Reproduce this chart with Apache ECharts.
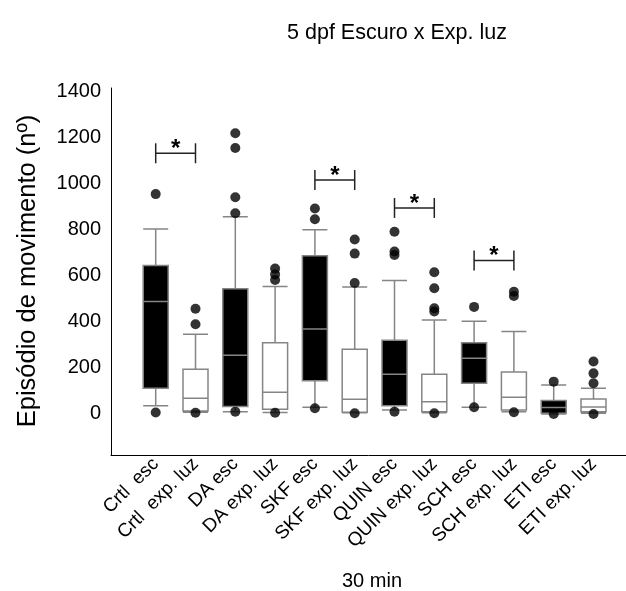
<!DOCTYPE html>
<html>
<head>
<meta charset="utf-8">
<script src="https://cdn.jsdelivr.net/npm/echarts@6/dist/echarts.min.js"></script>
<style>
html,body{margin:0;padding:0;background:#fff;}
#chart{width:626px;height:591px;}
</style>
</head>
<body>
<div id="chart"></div>
<script>
// ---- data ----
var categories = ['Crtl  esc','Crtl  exp. luz','DA esc','DA exp. luz','SKF esc','SKF exp. luz','QUIN esc','QUIN exp. luz','SCH esc','SCH exp. luz','ETI esc','ETI exp. luz'];
// [min, Q1, median, Q3, max]
var boxValues = [
  [35, 111, 487, 644, 802],
  [7, 13, 68, 194, 345],
  [10, 32, 254, 543, 855],
  [6, 20, 94, 309, 552],
  [29, 144, 368, 686, 798],
  [5, 7, 64, 280, 550],
  [17, 35, 172, 319, 578],
  [5, 10, 53, 172, 407],
  [29, 133, 241, 309, 402],
  [10, 17, 72, 182, 357],
  [0, 3, 28, 58, 126],
  [3, 10, 30, 65, 111]
];
var outliers = [
  [953, 6],
  [456, 389, 5],
  [1217, 1153, 939, 870, 10],
  [630, 605, 581, 5],
  [891, 844, 25],
  [756, 695, 568, 3],
  [790, 704, 689, 10],
  [614, 545, 458, 444, 3],
  [464, 29],
  [530, 511, 7],
  [140, 0],
  [227, 176, 133, 0]
];
var darkGroup = [true, false, true, false, true, false, true, false, true, false, true, false];
// significance brackets: [from category, to category, level]
var sigPairs = [[0, 1, 1130], [4, 5, 1014], [6, 7, 893], [8, 9, 665]];
var yTicks = [0, 200, 400, 600, 800, 1000, 1200, 1400];
var yMin = -178, yMax = 1413;

// ---- build ----
var FONT = "'Liberation Sans', Arial, sans-serif";
var boxData = boxValues.map(function (v, i) {
  return {
    value: v,
    itemStyle: { color: darkGroup[i] ? '#000000' : '#ffffff' }
  };
});
var outlierData = [];
outliers.forEach(function (arr, i) {
  arr.forEach(function (v) { outlierData.push([i, v]); });
});

var chart = echarts.init(document.getElementById('chart'), null, { renderer: 'canvas' });
chart.setOption({
  backgroundColor: '#ffffff',
  animation: false,
  grid: [
    { left: 111, right: -2, top: 88, bottom: 136, containLabel: false },
    { left: 135.8, width: 477.6, top: 88, bottom: 136, containLabel: false }
  ],
  xAxis: [
    { gridIndex: 0, type: 'value', min: 0, max: 1,
      axisLine: { show: true, onZero: false, lineStyle: { color: '#000', width: 1 } },
      axisTick: { show: false }, axisLabel: { show: false }, splitLine: { show: false } },
    { gridIndex: 1, type: 'category', data: categories, boundaryGap: true,
      axisLine: { show: false, onZero: false }, axisTick: { show: false }, splitLine: { show: false },
      axisLabel: { interval: 0, rotate: 45, margin: 6, fontSize: 19, color: '#000', fontFamily: FONT } }
  ],
  yAxis: [
    { gridIndex: 0, type: 'value', min: yMin, max: yMax,
      axisLine: { show: true, onZero: false, lineStyle: { color: '#000', width: 1 } },
      axisTick: { show: false }, splitLine: { show: false },
      axisLabel: { customValues: yTicks, margin: 10, fontSize: 20, color: '#000', fontFamily: FONT,
        formatter: function (v) { return String(v); } } },
    { gridIndex: 1, type: 'value', min: yMin, max: yMax, show: false,
      splitLine: { show: false } }
  ],
  series: [
    { type: 'boxplot', xAxisIndex: 1, yAxisIndex: 1, data: boxData,
      boxWidth: [25, 25],
      itemStyle: { borderColor: '#858585', borderWidth: 1.5 },
      emphasis: { disabled: true } },
    { type: 'scatter', xAxisIndex: 1, yAxisIndex: 1, data: outlierData,
      symbol: 'circle', symbolSize: 10, itemStyle: { color: '#000' }, z: 5 },
    { type: 'custom', xAxisIndex: 1, yAxisIndex: 1, data: sigPairs, z: 6,
      renderItem: function (params, api) {
        var p1 = api.coord([api.value(0), api.value(2)]);
        var p2 = api.coord([api.value(1), api.value(2)]);
        var h = 10;
        var st = { stroke: '#222', lineWidth: 1.5 };
        return {
          type: 'group',
          children: [
            { type: 'line', shape: { x1: p1[0], y1: p1[1], x2: p2[0], y2: p2[1] }, style: st },
            { type: 'line', shape: { x1: p1[0], y1: p1[1] - h, x2: p1[0], y2: p1[1] + h }, style: st },
            { type: 'line', shape: { x1: p2[0], y1: p2[1] - h, x2: p2[0], y2: p2[1] + h }, style: st },
            { type: 'text', style: { x: (p1[0] + p2[0]) / 2, y: p1[1] - 4, text: '*',
              textAlign: 'center', textVerticalAlign: 'middle', fontSize: 24, fontWeight: 'bold',
              fontFamily: FONT, fill: '#000' } }
          ]
        };
      } }
  ],
  graphic: [
    { type: 'text', x: 397, y: 33, style: { text: '5 dpf Escuro x Exp. luz', fontSize: 21.5, fontFamily: FONT,
      fill: '#000', textAlign: 'center', textVerticalAlign: 'middle' } },
    { type: 'text', x: 372, y: 581, style: { text: '30 min', fontSize: 20, fontFamily: FONT,
      fill: '#000', textAlign: 'center', textVerticalAlign: 'middle' } },
    { type: 'text', x: 28, y: 271, rotation: Math.PI / 2, style: { text: 'Episódio de movimento (nº)', fontSize: 25.5, fontFamily: FONT,
      fill: '#000', textAlign: 'center', textVerticalAlign: 'middle' } }
  ]
});
</script>
</body>
</html>
